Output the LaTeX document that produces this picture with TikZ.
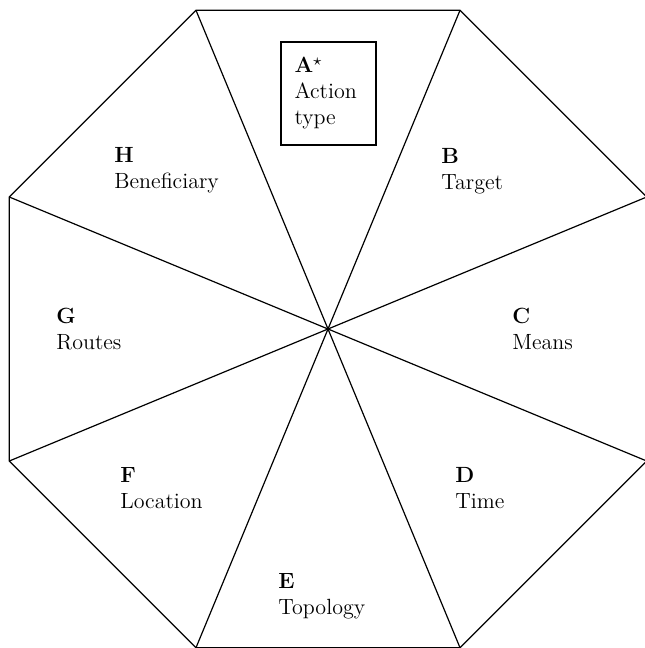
\documentclass[tikz,border=0pt]{standalone}
\usepackage{amsmath,amssymb}
\usepackage{tikz}
\usepackage{xcolor}

\begin{document}
\begin{tikzpicture}[
        x=0.5pt, y=0.5pt,
        every node/.style={font=\fontsize{11}{13}\selectfont, align=left},
        edge/.style={line width=0.6pt},
        facet/.style={anchor=north west, inner sep=0pt},
        core/.style={draw, line width=0.6pt, minimum width=47.5pt, minimum height=51.5pt, text width=34pt, inner sep=6.75pt}
    ]
        \useasboundingbox (0,0) rectangle (644,-648);
        \coordinate (c) at (328,-329);
        \begin{scope}[shift={(328,-329)}]
            \foreach \i [evaluate=\i as \a using 22.5+45*(\i-1)] in {1,...,8}
                \coordinate (v\i) at (\a:345);
        \end{scope}

        \draw[edge] (v1) -- (v2) -- (v3) -- (v4) -- (v5) -- (v6) -- (v7) -- (v8) -- cycle;
        \foreach \i in {1,...,8}
            \draw[edge] (c) -- (v\i);

        \node[core] (a) at (328.5,-93.5) {\textbf{A}$^{\star}$\\Action\\type};
        \node[facet] (b) at (441,-148) {\textbf{B}\\Target};
        \node[facet] (cc) at (512,-308) {\textbf{C}\\Means};
        \node[facet] (d) at (455,-467) {\textbf{D}\\Time};
        \node[facet] (e) at (278,-573) {\textbf{E}\\Topology};
        \node[facet] (f) at (120,-467) {\textbf{F}\\Location};
        \node[facet] (g) at (56,-308) {\textbf{G}\\Routes};
        \node[facet] (h) at (114,-147) {\textbf{H}\\Beneficiary};
    \end{tikzpicture}
\end{document}
